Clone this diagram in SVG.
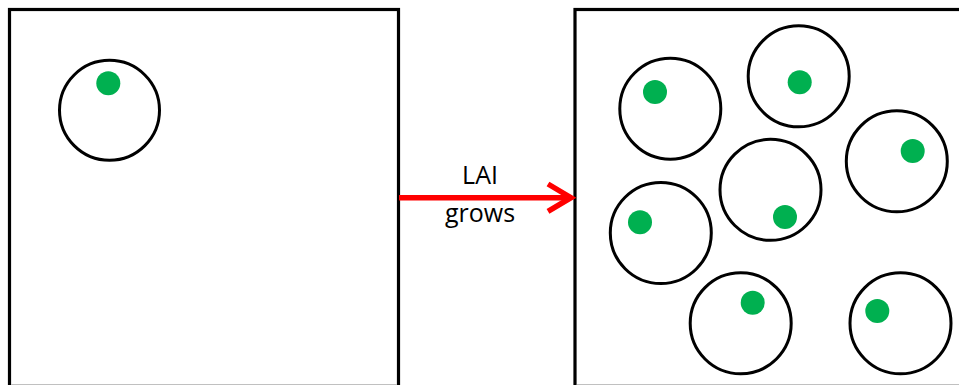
<svg xmlns="http://www.w3.org/2000/svg" width="959" height="385" viewBox="0 0 959 385">
<style>
.box{fill:none;stroke:#000;stroke-width:3.2}
.edge{stroke:#c0c0c0;stroke-width:1}
.cell{fill:#fff;stroke:#000;stroke-width:3}
.dot{fill:#00b050}
.lbl{font-family:"Open Sans","Liberation Sans",sans-serif;font-size:25px;fill:#000;text-anchor:middle}
.arrow{fill:none;stroke:#ff0000;stroke-width:5.5}
</style>
<rect width="959" height="385" fill="#fff"/>
<g id="box-before">
<rect class="box" x="9.5" y="9.5" width="389" height="380"/>
<line class="edge" x1="11" y1="384.5" x2="397" y2="384.5"/>
</g>
<g id="box-after">
<rect class="box" x="575" y="9.5" width="400" height="380"/>
<line class="edge" x1="577" y1="384.5" x2="959" y2="384.5"/>
</g>
<g id="leaf-before">
<circle class="cell" cx="109.5" cy="110.3" r="50"/>
<circle class="dot" cx="108.3" cy="83.3" r="12"/>
</g>
<g id="leaf-1"><circle class="cell" cx="670.3" cy="108.7" r="50.5"/><circle class="dot" cx="655" cy="92" r="12"/></g>
<g id="leaf-2"><circle class="cell" cx="798.7" cy="76.3" r="50.5"/><circle class="dot" cx="799.7" cy="82.3" r="12"/></g>
<g id="leaf-3"><circle class="cell" cx="896.8" cy="161.3" r="50.5"/><circle class="dot" cx="912.7" cy="151" r="12"/></g>
<g id="leaf-4"><circle class="cell" cx="770.5" cy="189.8" r="50.5"/><circle class="dot" cx="785" cy="217" r="12"/></g>
<g id="leaf-5"><circle class="cell" cx="660.8" cy="233" r="50.5"/><circle class="dot" cx="640" cy="222.3" r="12"/></g>
<g id="leaf-6"><circle class="cell" cx="740.7" cy="323.3" r="50.5"/><circle class="dot" cx="752.7" cy="302.7" r="12"/></g>
<g id="leaf-7"><circle class="cell" cx="900.5" cy="323.3" r="50.5"/><circle class="dot" cx="877.3" cy="311" r="12"/></g>
<g id="connectors">
<line class="arrow" x1="399" y1="197.7" x2="571" y2="197.7"/>
<polyline class="arrow" points="548,184 571,197.7 548,211.4" stroke-linejoin="miter"/>
</g>
<g id="label">
<text class="lbl" x="480" y="184.3">LAI</text>
<text class="lbl" x="480" y="221.5">grows</text>
</g>
</svg>
